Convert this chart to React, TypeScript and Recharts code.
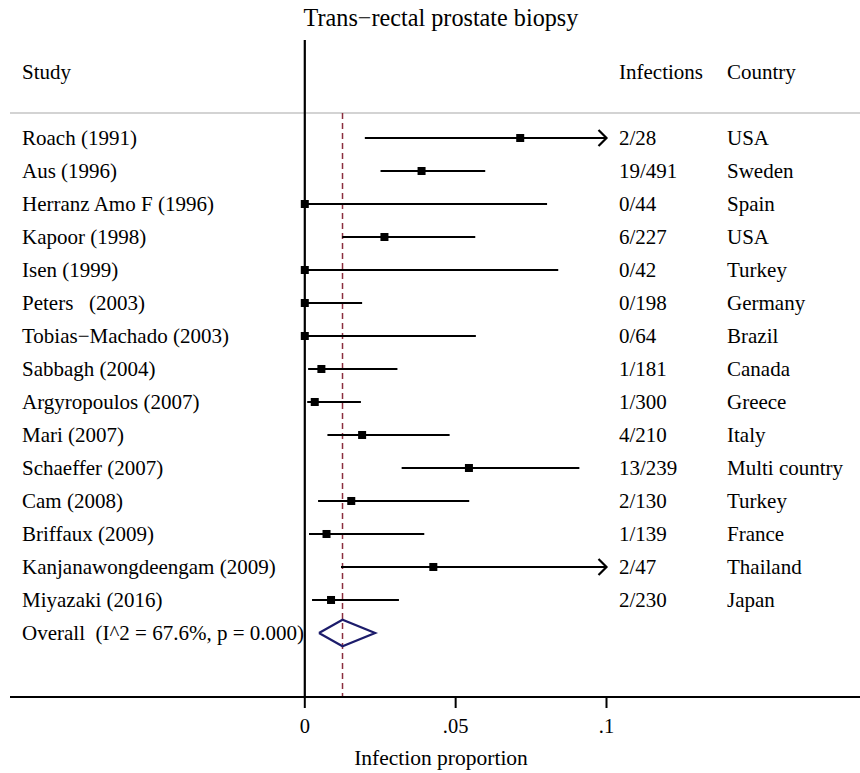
import React from "react";
import { ComposedChart, Scatter, XAxis, YAxis, ReferenceLine } from "recharts";

// ─── Data ────────────────────────────────────────────────────────────────────
const studies = [
  "Roach (1991)",
  "Aus (1996)",
  "Herranz Amo F (1996)",
  "Kapoor (1998)",
  "Isen (1999)",
  "Peters   (2003)",
  "Tobias\u2212Machado (2003)",
  "Sabbagh (2004)",
  "Argyropoulos (2007)",
  "Mari (2007)",
  "Schaeffer (2007)",
  "Cam (2008)",
  "Briffaux (2009)",
  "Kanjanawongdeengam (2009)",
  "Miyazaki (2016)",
];
const infections = [
  "2/28", "19/491", "0/44", "6/227", "0/42", "0/198", "0/64", "1/181",
  "1/300", "4/210", "13/239", "2/130", "1/139", "2/47", "2/230",
];
const countries = [
  "USA", "Sweden", "Spain", "USA", "Turkey", "Germany", "Brazil", "Canada",
  "Greece", "Italy", "Multi country", "Turkey", "France", "Thailand", "Japan",
];
const estimates = [
  0.0714, 0.0387, 0, 0.0264, 0, 0, 0, 0.0055,
  0.0033, 0.019, 0.0544, 0.0154, 0.0072, 0.0426, 0.0087,
];
const lowers = [
  0.0199, 0.0251, 0, 0.0124, 0, 0, 0, 0.0011,
  0.0008, 0.0075, 0.0321, 0.0044, 0.0014, 0.012, 0.0024,
];
const uppers = [
  0.226, 0.0598, 0.0803, 0.0565, 0.084, 0.019, 0.0567, 0.0307,
  0.0186, 0.048, 0.091, 0.0545, 0.0396, 0.143, 0.0312,
];
const overall = { est: 0.0125, lo: 0.0047, hi: 0.0233 };
const overallLabel = "Overall  (I^2 = 67.6%, p = 0.000)";
const xTicks = [0, 0.05, 0.1];
const CLIP = 0.1;

const FONT = "'Liberation Serif', 'Times New Roman', Times, serif";
const W = 860;
const H = 773;
const X_DOMAIN: [number, number] = [-0.09771, 0.18402];
const Y_DOMAIN: [number, number] = [-2.97, 16.94];
const HEADER_ROW = -2;
const OVERALL_ROW = studies.length;
const rowTicks = [HEADER_ROW, ...studies.map((_, i) => i), OVERALL_ROW];

const ciSeries = studies.map((_, i) => [
  { x: lowers[i], y: i, clipped: false },
  { x: Math.min(uppers[i], CLIP), y: i, clipped: uppers[i] > CLIP },
]);
const pointData = estimates.map((e, i) => ({ x: e, y: i }));
const diamondData = [
  { x: overall.lo, y: OVERALL_ROW },
  { x: overall.est, y: OVERALL_ROW - 0.4 },
  { x: overall.hi, y: OVERALL_ROW },
  { x: overall.est, y: OVERALL_ROW + 0.4 },
  { x: overall.lo, y: OVERALL_ROW },
];

const Nothing = () => <g />;

const CiEnd = (props: any) => {
  const { cx, cy, payload } = props;
  if (!payload?.clipped) return <g />;
  return (
    <path
      d={`M${cx - 8},${cy - 8} L${cx},${cy} L${cx - 8},${cy + 8}`}
      fill="none"
      stroke="#000"
      strokeWidth={2.2}
    />
  );
};

const Square = (props: any) => {
  const { cx, cy } = props;
  return <rect x={cx - 4} y={cy - 4} width={8} height={8} fill="#000" />;
};

const RowTick = (props: any) => {
  const { y, payload } = props;
  const v = payload.value;
  const t = { fontFamily: FONT, fontSize: 21, fill: "#000", dy: "0.34em" };
  if (v === HEADER_ROW) {
    return (
      <g>
        <text x={22} y={y} {...t}>Study</text>
        <text x={619} y={y} {...t}>Infections</text>
        <text x={727} y={y} {...t}>Country</text>
      </g>
    );
  }
  if (v === OVERALL_ROW) {
    return <text x={22} y={y} {...t} style={{ whiteSpace: "pre" }}>{overallLabel}</text>;
  }
  return (
    <g>
      <text x={22} y={y} {...t} style={{ whiteSpace: "pre" }}>{studies[v]}</text>
      <text x={619} y={y} {...t}>{infections[v]}</text>
      <text x={727} y={y} {...t}>{countries[v]}</text>
    </g>
  );
};

const fmtTick = (v: number) => (v === 0 ? "0" : String(v).replace(/^0/, ""));

export default function App() {
  return (
    <div style={{ position: "absolute", left: 0, top: 0, width: W, height: H, background: "#fff" }}>
      <ComposedChart width={W} height={H} margin={{ top: 40, right: 0, bottom: 0, left: 0 }}>
        <XAxis
          type="number"
          dataKey="x"
          domain={X_DOMAIN}
          allowDataOverflow
          ticks={xTicks}
          interval={0}
          tickFormatter={fmtTick}
          height={76}
          tickSize={11}
          tickMargin={10}
          axisLine={{ stroke: "#000", strokeWidth: 2 }}
          tickLine={{ stroke: "#000", strokeWidth: 2 }}
          tick={{ fontFamily: FONT, fontSize: 20.5, fill: "#000" }}
        />
        <YAxis
          type="number"
          dataKey="y"
          domain={Y_DOMAIN}
          allowDataOverflow
          reversed
          ticks={rowTicks}
          interval={0}
          width={10}
          axisLine={false}
          tickLine={false}
          tick={<RowTick />}
        />
        <ReferenceLine y={-0.76} stroke="#c4c4c4" strokeWidth={1.5} />
        <ReferenceLine
          segment={[{ x: overall.est, y: -0.76 }, { x: overall.est, y: Y_DOMAIN[1] }]}
          stroke="#8b2e3e"
          strokeWidth={1.5}
          strokeDasharray="6 4"
        />
        <ReferenceLine x={0} stroke="#000" strokeWidth={2.2} />
        {ciSeries.map((d, i) => (
          <Scatter
            key={i}
            data={d}
            line={{ stroke: "#000", strokeWidth: 2.2 }}
            shape={<CiEnd />}
            isAnimationActive={false}
          />
        ))}
        <Scatter data={pointData} shape={<Square />} isAnimationActive={false} />
        <Scatter
          data={diamondData}
          line={{ stroke: "#1c1c6b", strokeWidth: 2.2, strokeLinejoin: "miter" }}
          shape={<Nothing />}
          isAnimationActive={false}
        />
        <text x={441} y={18} textAnchor="middle" dy="0.34em" fontFamily={FONT} fontSize={24.2} fill="#000">
          Trans{"\u2212"}rectal prostate biopsy
        </text>
        <text x={441} y={758} textAnchor="middle" dy="0.34em" fontFamily={FONT} fontSize={21.5} fill="#000">
          Infection proportion
        </text>
      </ComposedChart>
    </div>
  );
}
